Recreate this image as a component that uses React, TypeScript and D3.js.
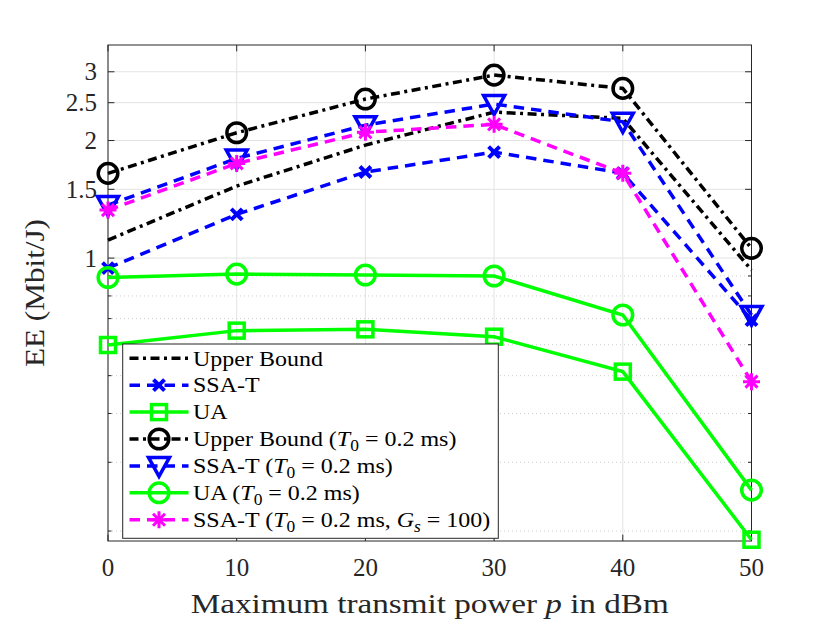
import { useEffect, useRef } from 'react'
import * as d3 from 'd3'

const powers = [0, 10, 20, 30, 40, 50]

const upperBound = [1.112, 1.529, 1.947, 2.365, 2.279, 0.932]
const ssaT = [0.943, 1.294, 1.661, 1.868, 1.65, 0.694]
const ua = [0.599, 0.652, 0.657, 0.629, 0.512, 0.19]
const upperBoundT0 = [1.648, 2.094, 2.554, 2.942, 2.72, 1.059]
const ssaTT0 = [1.367, 1.8, 2.19, 2.48, 2.234, 0.715]
const uaT0 = [0.892, 0.91, 0.905, 0.9, 0.715, 0.2546]
const ssaTGs = [1.327, 1.748, 2.1, 2.2, 1.648, 0.4826]

const xTicks = [0, 10, 20, 30, 40, 50]
const yMajorTicks = [1, 1.5, 2, 2.5, 3]
const yMinorTicks = [0.2, 0.3, 0.4, 0.5, 0.6, 0.7, 0.8, 0.9]

const series = [
  { label: 'Upper Bound', values: upperBound, color: '#000000', dash: '9,4.5,3,4.5', marker: 'none' },
  { label: 'SSA-T', values: ssaT, color: '#0000ff', dash: '10.5,7', marker: 'x' },
  { label: 'UA', values: ua, color: '#00ff00', dash: null, marker: 'square' },
  { label: 'Upper Bound (T0)', values: upperBoundT0, color: '#000000', dash: '9,4.5,3,4.5', marker: 'circle' },
  { label: 'SSA-T (T0)', values: ssaTT0, color: '#0000ff', dash: '10.5,7', marker: 'triangle' },
  { label: 'UA (T0)', values: uaT0, color: '#00ff00', dash: null, marker: 'circle' },
  { label: 'SSA-T (Gs)', values: ssaTGs, color: '#ff00ff', dash: '10.5,7', marker: 'star' },
]

const FONT = '"Liberation Serif", "Times New Roman", serif'
const LW = 3.5

function drawMarker(g: any, type: string, cx: number, cy: number, color: string) {
  const m = g.append('g').attr('transform', `translate(${cx},${cy})`)
    .attr('fill', 'none').attr('stroke', color).attr('stroke-width', LW)
  if (type === 'circle') m.append('circle').attr('r', 9.8)
  if (type === 'square') m.append('rect').attr('x', -7.5).attr('y', -7.5).attr('width', 15).attr('height', 15)
  if (type === 'triangle') m.append('path').attr('d', 'M-10.5,-8.5L10.5,-8.5L0,10.5Z')
  if (type === 'x') {
    m.attr('stroke-width', 4)
    m.append('path').attr('d', 'M-5.5,-5.5L5.5,5.5M-5.5,5.5L5.5,-5.5')
  }
  if (type === 'star') {
    m.attr('stroke-width', 3)
    m.append('path').attr('d', 'M-8.5,0L8.5,0M0,-8.5L0,8.5M-6,-6L6,6M-6,6L6,-6')
  }
}

export default function App() {
  const containerRef = useRef<HTMLDivElement>(null)

  useEffect(() => {
    if (!containerRef.current) return
    const container = containerRef.current
    container.innerHTML = ''
    document.body.style.margin = '0'

    const width = 830
    const height = 623
    const left = 108, right = 751.5, top = 45, bottom = 541

    const svg = d3.select(container).append('svg')
      .attr('width', width).attr('height', height)
      .style('display', 'block').style('background', '#fff')

    const x = d3.scaleLinear().domain([0, 50]).range([left, right])
    const y = d3.scaleLog().domain([0.1886, 3.513]).range([bottom, top])

    // grid
    const grid = svg.append('g')
    xTicks.forEach(t => {
      grid.append('line').attr('x1', x(t)).attr('x2', x(t)).attr('y1', top).attr('y2', bottom)
        .attr('stroke', '#e3e3e3').attr('stroke-width', 1)
    })
    yMajorTicks.forEach(t => {
      grid.append('line').attr('x1', left).attr('x2', right).attr('y1', y(t)).attr('y2', y(t))
        .attr('stroke', '#e3e3e3').attr('stroke-width', 1)
    })
    yMinorTicks.forEach(t => {
      grid.append('line').attr('x1', left).attr('x2', right).attr('y1', y(t)).attr('y2', y(t))
        .attr('stroke', '#cfcfcf').attr('stroke-width', 1).attr('stroke-dasharray', '1,3')
    })

    // axes box with inward ticks
    const axes = svg.append('g').attr('stroke', '#262626').attr('stroke-width', 1)
    axes.append('rect').attr('x', left).attr('y', top).attr('width', right - left).attr('height', bottom - top)
      .attr('fill', 'none')
    const tl = 6.4
    xTicks.forEach(t => {
      axes.append('line').attr('x1', x(t)).attr('x2', x(t)).attr('y1', bottom).attr('y2', bottom - tl)
      axes.append('line').attr('x1', x(t)).attr('x2', x(t)).attr('y1', top).attr('y2', top + tl)
    })
    yMajorTicks.forEach(t => {
      axes.append('line').attr('x1', left).attr('x2', left + tl).attr('y1', y(t)).attr('y2', y(t))
      axes.append('line').attr('x1', right).attr('x2', right - tl).attr('y1', y(t)).attr('y2', y(t))
    })
    yMinorTicks.forEach(t => {
      axes.append('line').attr('x1', left).attr('x2', left + 3.5).attr('y1', y(t)).attr('y2', y(t))
      axes.append('line').attr('x1', right).attr('x2', right - 3.5).attr('y1', y(t)).attr('y2', y(t))
    })

    // tick labels
    const labels = svg.append('g').style('font-family', FONT).attr('fill', '#262626')
    xTicks.forEach(t => {
      labels.append('text').attr('x', x(t)).attr('y', 576).attr('text-anchor', 'middle')
        .style('font-size', '25px').text(String(t))
    })
    yMajorTicks.forEach(t => {
      labels.append('text').attr('x', 97).attr('y', y(t)).attr('dy', '0.34em').attr('text-anchor', 'end')
        .style('font-size', '25px').text(String(t))
    })

    // axis titles
    const xt = labels.append('text').attr('x', (left + right) / 2).attr('y', 613).attr('text-anchor', 'middle')
      .style('font-size', '27px').attr('textLength', 478).attr('lengthAdjust', 'spacingAndGlyphs')
    xt.append('tspan').text('Maximum transmit power ')
    xt.append('tspan').style('font-style', 'italic').text('p')
    xt.append('tspan').text(' in dBm')
    labels.append('text').attr('transform', `translate(44,${(top + bottom) / 2}) rotate(-90)`)
      .attr('text-anchor', 'middle').style('font-size', '27px')
      .attr('textLength', 148).attr('lengthAdjust', 'spacingAndGlyphs').text('EE (Mbit/J)')

    // series
    const line = d3.line<number>().x((_, i) => x(powers[i])).y(d => y(d))
    const plot = svg.append('g')
    series.forEach(s => {
      plot.append('path').datum(s.values).attr('d', line).attr('fill', 'none')
        .attr('stroke', s.color).attr('stroke-width', LW)
        .attr('stroke-dasharray', s.dash)
      if (s.marker !== 'none') {
        s.values.forEach((v, i) => drawMarker(plot, s.marker, x(powers[i]), y(v), s.color))
      }
    })

    // legend
    const lg = svg.append('g')
    const lx = 122.7, ly = 344, lw = 375.6, lh = 194.3
    lg.append('rect').attr('x', lx).attr('y', ly).attr('width', lw).attr('height', lh)
      .attr('fill', '#fff').attr('stroke', '#262626').attr('stroke-width', 1)
    const rowY = (i: number) => 358.3 + i * 26.9
    series.forEach((s, i) => {
      const ry = rowY(i)
      lg.append('line').attr('x1', 129.5).attr('x2', 188.5).attr('y1', ry).attr('y2', ry)
        .attr('stroke', s.color).attr('stroke-width', LW).attr('stroke-dasharray', s.dash)
      if (s.marker !== 'none') drawMarker(lg, s.marker, 159, ry, s.color)
      const t = lg.append('text').attr('x', 193).attr('y', ry).attr('dy', '0.33em')
        .style('font-family', FONT).style('font-size', '22px').attr('fill', '#000')
      const base = s.label.split(' (')[0]
      t.append('tspan').text(base)
      if (s.label.includes('(')) {
        t.append('tspan').text(' (')
        t.append('tspan').style('font-style', 'italic').text('T')
        t.append('tspan').attr('dy', 5).style('font-size', '16px').text('0')
        t.append('tspan').attr('dy', -5).text(' = 0.2 ms')
        if (s.label.includes('Gs')) {
          t.append('tspan').text(', ')
          t.append('tspan').style('font-style', 'italic').text('G')
          t.append('tspan').attr('dy', 5).style('font-size', '16px').style('font-style', 'italic').text('s')
          t.append('tspan').attr('dy', -5).text(' = 100')
        }
        t.append('tspan').text(')')
      }
      const node = t.node() as SVGTextElement
      const w = node.getComputedTextLength()
      t.attr('textLength', w * 1.09).attr('lengthAdjust', 'spacingAndGlyphs')
    })

    return () => { container.innerHTML = '' }
  }, [])

  return <div ref={containerRef} />
}
